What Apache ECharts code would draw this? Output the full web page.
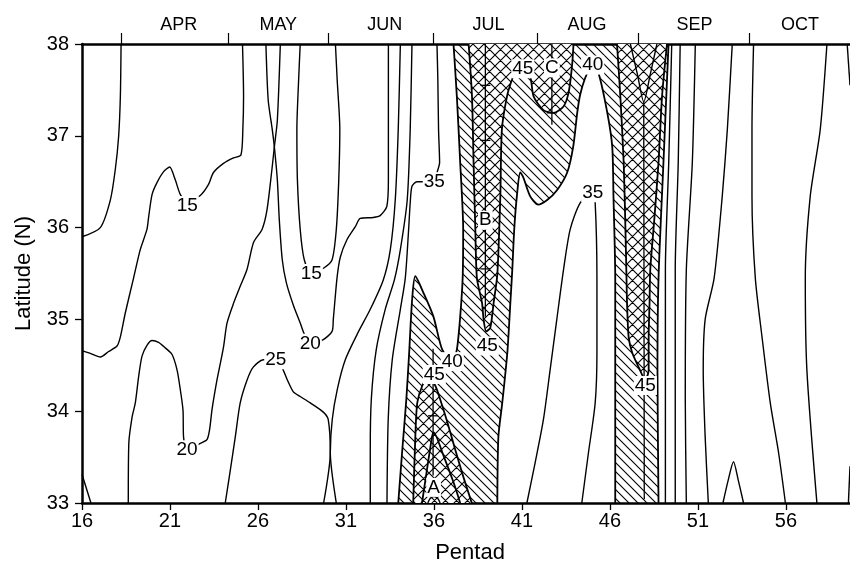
<!DOCTYPE html>
<html><head><meta charset="utf-8">
<script src="https://cdn.jsdelivr.net/npm/echarts@6/dist/echarts.min.js"></script>
<style>html,body{margin:0;padding:0;background:#fff}#c{width:850px;height:562px}</style>
</head><body><div id="c"></div>
<script>
// ---------- axis data ----------
const X_MIN = 16, X_MAX = 59.64, Y_MIN = 33, Y_MAX = 38;
const monthNames   = ['APR','MAY','JUN','JUL','AUG','SEP','OCT'];
const monthBounds  = [18.22,24.33,30.01,35.96,41.85,47.59,53.9];
const monthCenters = [21.5,27.15,33.2,39.1,44.7,50.8,56.8];

// ---------- contour lines [pentad, latitude] ----------
const c10a = [[18.22,38],[18.18,37.43],[18.08,36.99],[17.89,36.63],[17.61,36.30],[17.04,36.00],[16,35.90]];
const cCorner = [[16,33.31],[16.51,33.0]];
const c15a = [[25.12,38],[25.18,37.43],[25.14,37.07],[25.03,36.79],[24.61,36.76],[24.04,36.70],[23.47,36.60],[23.19,36.47],[22.72,36.35],[21.98,36.28],[21.59,36.36],[21.30,36.52],[20.98,36.66],[20.64,36.61],[20.26,36.49],[19.98,36.36],[19.79,36.12],[19.69,35.98],[19.31,35.76],[18.93,35.45],[18.46,35.07],[18.18,34.81],[17.99,34.71],[17.51,34.65],[17.04,34.59],[16.47,34.63],[16,34.66]];
const c20a = [[18.63,33.0],[18.66,33.65],[18.85,33.94],[19.03,34.09],[19.22,34.38],[19.41,34.60],[19.70,34.72],[19.98,34.77],[20.35,34.75],[20.73,34.69],[21.11,34.62],[21.40,34.45],[21.59,34.23],[21.74,34.01],[21.77,33.72],[21.97,33.58],[22.72,33.65],[23.10,33.69],[23.25,33.80],[23.39,34.02],[23.67,34.34],[23.86,34.52],[24.05,34.71],[24.24,34.96],[24.62,35.18],[24.99,35.36],[25.37,35.54],[25.75,35.84],[26.23,35.98],[26.51,36.19],[26.79,36.63],[26.93,36.88],[27.10,37.17],[27.27,38.0]];
const c20b = [[26.45,38],[26.58,37.39],[26.81,37.07],[26.93,36.88],[27.10,36.52],[27.21,36.09],[27.38,35.65],[27.61,35.40],[28.00,35.16],[28.40,34.96],[28.63,34.84],[28.97,34.74],[29.71,34.78],[30.21,34.87],[30.28,35.00],[30.49,35.45],[30.68,35.68],[31.06,35.87],[31.53,36.01],[31.81,36.10],[32.55,36.11],[32.94,36.13],[33.32,36.23],[33.41,36.52],[33.41,38]];
const c15b = [[28.40,38],[28.31,37.61],[28.21,37.07],[28.24,36.52],[28.40,35.98],[28.63,35.65],[29.03,35.50],[29.74,35.56],[30.21,35.65],[30.45,35.98],[30.59,36.52],[30.65,37.07],[30.50,37.61],[30.40,38]];
const c25a = [[24.14,33.0],[24.43,33.36],[24.71,33.72],[24.99,34.09],[25.38,34.34],[25.73,34.48],[26.30,34.56],[27.01,34.56],[27.38,34.47],[27.67,34.34],[28.01,34.21],[28.40,34.16],[28.97,34.09],[29.71,33.99],[29.99,33.91],[30.11,33.55],[29.73,33.0]];
const c25b = [[34.09,38],[33.97,37.07],[33.80,36.30],[33.52,35.76],[33.12,35.43],[32.38,35.11],[31.64,34.84],[30.96,34.56],[30.51,34.24],[30.22,33.91],[30.11,33.55],[30.45,33.0]];
const c30a = [[34.75,38],[34.65,37.07],[34.48,36.30],[34.09,35.76],[33.75,35.43],[33.23,35.11],[32.72,34.67],[32.44,34.13],[32.38,33.58],[32.38,33.0]];
const c35a = [[36.17,38],[36.22,37.61],[36.26,37.07],[36.32,36.71],[36.19,36.61],[36.02,36.50],[35.03,36.50],[34.75,36.45],[34.65,36.27],[34.56,35.98],[34.37,35.45],[34.09,35.11],[33.63,34.56],[33.40,33.91],[33.33,33.0]];
const c40a = [[37.11,38],[37.30,37.43],[37.49,36.71],[37.66,35.98],[37.63,35.45],[37.49,35.03],[37.30,34.67],[37.04,34.54],[36.47,34.67],[35.97,35.03],[35.40,35.29],[34.94,35.47],[34.76,35.22],[34.60,34.67],[34.43,34.13],[34.20,33.58],[33.97,33.0]];
const c40b = [[39.60,33.0],[39.66,33.72],[39.88,34.09],[40.17,34.64],[40.34,35.18],[40.45,35.54],[40.56,35.98],[40.71,36.34],[40.90,36.60],[41.07,36.55],[41.47,36.34],[41.92,36.25],[42.43,36.30],[43.00,36.41],[43.57,36.60],[43.91,36.88],[44.14,37.25],[44.31,37.45],[44.59,37.63],[44.88,37.74],[45.02,37.77],[45.34,37.69],[45.85,37.25],[46.13,36.88],[46.20,36.34],[46.30,35.45],[46.30,34.45],[46.30,33.0]];
const c40c = [[49.33,38],[49.04,36.71],[48.76,35.45],[48.70,34.45],[48.76,33.0]];
const c45bc = [[37.97,38],[38.16,37.43],[38.25,36.71],[38.35,35.98],[38.44,35.45],[38.73,35.18],[38.82,35.0],[38.97,34.87],[39.20,34.91],[39.39,35.18],[39.60,35.49],[39.77,36.34],[39.86,37.07],[40.15,37.43],[40.43,37.61],[40.73,37.75],[41.05,37.72],[41.47,37.64],[41.66,37.43],[42.22,37.28],[42.79,37.25],[43.36,37.32],[43.65,37.47],[43.84,37.75],[43.93,38]];
const c45a = [[34.82,33.0],[34.94,33.72],[35.05,34.09],[35.34,34.28],[35.68,34.37],[36.07,34.28],[36.35,34.13],[36.76,33.88],[37.21,33.58],[37.66,33.29],[38.15,33.0]];
const c45z = [[46.40,38],[46.59,37.43],[46.78,36.71],[46.88,35.98],[46.94,35.45],[46.97,35.18],[47.06,34.81],[47.26,34.64],[47.63,34.48],[48.01,34.34],[48.20,34.45],[48.20,34.81],[48.25,35.18],[48.29,35.54],[48.52,36.09],[48.76,36.71],[48.96,37.43],[49.24,38]];
const c50a = [[35.32,33.0],[35.60,33.36],[35.89,33.72],[35.98,33.77],[36.55,33.51],[37.12,33.22],[37.49,33.0]];
const c55a = [[35.65,33.0],[35.78,33.05],[36.0,33.07],[36.22,33.05],[36.35,33.0]];
const c50z = [[47.16,38],[47.56,37.67],[47.92,37.37],[48.29,37.67],[48.67,38]];
const c35b = [[41.28,33.0],[41.75,33.44],[42.22,33.91],[42.60,34.45],[42.98,35.00],[43.36,35.54],[43.74,35.98],[44.31,36.27],[45.02,36.38],[45.16,36.27],[45.26,35.45],[45.26,34.64],[45.16,34.09],[44.78,33.55],[44.40,33.0]];
const c35r = [[49.51,38],[49.34,36.71],[49.15,35.54],[49.15,34.13],[49.15,33.0]];
const c30r = [[49.99,38],[49.88,36.71],[49.71,35.54],[49.71,34.13],[49.71,33.0]];
const c25r = [[50.85,38],[50.68,36.71],[50.34,35.54],[50.28,34.13],[50.34,33.0]];
const c20r = [[52.95,38],[52.67,37.07],[52.38,36.34],[51.92,35.45],[51.41,35.0],[51.30,34.45],[51.41,33.72],[51.59,33.0]];
const c15r = [[54.16,38],[54.07,37.07],[54.07,36.34],[54.26,35.45],[54.64,34.81],[55.11,34.09],[55.58,33.55],[55.97,33.0]];
const cBump = [[52.42,33.0],[52.72,33.25],[53.02,33.45],[53.29,33.25],[53.59,33.0]];
const c10r = [[58.33,38],[57.95,37.07],[57.38,36.34],[57.10,35.45],[57.19,34.45],[57.76,33.0]];
const cEdgeTop = [[59.48,38],[59.64,37.55]];
const cEdgeBot = [[59.55,33.0],[59.64,33.4]];

// axes of maxima
const axisA = [[35.95,34.68],[35.95,33.30]];
const axisB = [[38.92,38],[38.92,35.03]];
const axisC = [[42.70,38],[42.70,37.12]];
const axisZ = [[47.92,37.37],[47.95,33.04]];
const crossPts = [[42.70,37.25],[38.92,37.55],[38.92,36.95],[38.92,35.55],[35.95,33.95]];

// contour labels
const labelPts = [[21.98,36.24],[21.97,33.58],[29.03,35.50],[28.97,34.74],[27.01,34.56],[36.02,36.50],[37.04,34.54],[36.02,34.40],[39.03,34.71],[41.05,37.73],[42.70,37.74],[45.02,37.77],[45.02,36.38],[38.92,36.08],[48.01,34.28],[35.98,33.17]];
const labelTxt = ['15','20','15','20','25','35','40','45','45','45','C','40','35','B','45','A'];

// ---------- build ----------
const FONT = '"Liberation Sans", Arial, Helvetica, sans-serif';
function pattern(size, both, bg) {
  const cv = document.createElement('canvas');
  cv.width = cv.height = size;
  const g = cv.getContext('2d');
  if (bg) { g.fillStyle = bg; g.fillRect(0, 0, size, size); }
  g.strokeStyle = '#000'; g.lineWidth = 1.1;
  g.beginPath();
  g.moveTo(-2, -2); g.lineTo(size + 2, size + 2);
  g.moveTo(-2, size - 2); g.lineTo(2, size + 2);
  g.moveTo(size - 2, -2); g.lineTo(size + 2, 2);
  if (both) {
    g.moveTo(-2, size + 2); g.lineTo(size + 2, -2);
    g.moveTo(-2, 2); g.lineTo(2, -2);
    g.moveTo(size - 2, size + 2); g.lineTo(size + 2, size - 2);
  }
  g.stroke();
  return { image: cv, repeat: 'repeat' };
}
const hatchFill = pattern(9, false, null);
const crossFill = pattern(11, true, '#fff');

function polySeries(points, fill, z) {
  return {
    type: 'custom', coordinateSystem: 'cartesian2d', clip: true, silent: true, z: z,
    data: [points[0]],
    renderItem: function (params, api) {
      return { type: 'polygon', shape: { points: points.map(p => api.coord(p)) }, style: { fill: fill, stroke: null } };
    }
  };
}
function lineSeries(data, w) {
  return { type: 'line', data: data, showSymbol: false, smooth: 0.25, silent: true, z: 3,
    lineStyle: { color: '#000', width: w || 1.4 }, clip: true, animation: false };
}

const hatchPoly = [].concat(c40c, c40b.slice().reverse(), c40a.slice().reverse());
const series = [
  polySeries(hatchPoly, hatchFill, 1),
  polySeries(c45bc, crossFill, 2),
  polySeries(c45a, crossFill, 2),
  polySeries(c45z, crossFill, 2)
];
[c10a, cCorner, c15a, c20a, c20b, c15b, c25a, c25b, c30a, c35a, c35b, c35r, c30r, c25r, c20r, c15r, cBump, c10r, cEdgeTop, cEdgeBot, c50z, c55a]
  .forEach(d => series.push(lineSeries(d, 1.4)));
[c40a, c40b, c40c, c45bc, c45a, c45z, c50a].forEach(d => series.push(lineSeries(d, 1.8)));
[axisA, axisB, axisC, axisZ].forEach(d => series.push({ type: 'line', data: d, showSymbol: false, silent: true, z: 4,
  lineStyle: { color: '#000', width: 1.3 }, animation: false }));
series.push({
  type: 'custom', coordinateSystem: 'cartesian2d', silent: true, z: 4, data: crossPts,
  renderItem: function (params, api) {
    const c = api.coord([api.value(0), api.value(1)]);
    return { type: 'line', shape: { x1: c[0] - 5, y1: c[1], x2: c[0] + 5, y2: c[1] }, style: { stroke: '#000', lineWidth: 1.3 } };
  }
});
series.push({
  type: 'custom', coordinateSystem: 'cartesian2d', silent: true, z: 6, data: labelPts,
  renderItem: function (params, api) {
    const c = api.coord([api.value(0), api.value(1)]);
    return { type: 'text', x: c[0], y: c[1], style: { text: labelTxt[params.dataIndex], fill: '#000',
      font: '19px ' + FONT, align: 'center', verticalAlign: 'middle', backgroundColor: '#fff', padding: [0, 1] } };
  }
});

function nearestMonth(v) {
  let best = 0;
  monthCenters.forEach((m, i) => { if (Math.abs(m - v) < Math.abs(monthCenters[best] - v)) best = i; });
  return monthNames[best];
}

const chart = echarts.init(document.getElementById('c'), null, { renderer: 'canvas' });
chart.setOption({
  animation: false,
  backgroundColor: '#fff',
  grid: { left: 82, right: 0, top: 44, bottom: 59, containLabel: false, outerBoundsMode: 'none' },
  xAxis: [
    { type: 'value', position: 'bottom', min: X_MIN, max: X_MAX, interval: 5,
      name: 'Pentad', nameLocation: 'middle', nameGap: 39,
      nameTextStyle: { fontFamily: FONT, fontSize: 22, color: '#000', padding: [0, 0, 0, 8] },
      axisLine: { show: true, onZero: false, lineStyle: { color: '#000', width: 2.5 } },
      axisTick: { show: true, inside: false, length: 7, lineStyle: { color: '#000', width: 1.3 } },
      axisLabel: { fontFamily: FONT, fontSize: 20, color: '#000', margin: 8, showMaxLabel: false },
      splitLine: { show: false } },
    { type: 'value', position: 'top', min: X_MIN, max: X_MAX,
      axisLine: { show: true, onZero: false, lineStyle: { color: '#000', width: 2.5 } },
      axisTick: { show: true, inside: false, length: 11, customValues: monthBounds, lineStyle: { color: '#000', width: 1.2 } },
      axisLabel: { show: true, customValues: monthCenters, formatter: nearestMonth, fontFamily: FONT, fontSize: 18, color: '#000', margin: 10 },
      splitLine: { show: false } }
  ],
  yAxis: [
    { type: 'value', min: Y_MIN, max: Y_MAX, interval: 1,
      name: 'Latitude (N)', nameLocation: 'middle', nameGap: 47,
      nameTextStyle: { fontFamily: FONT, fontSize: 22, color: '#000' },
      axisLine: { show: true, onZero: false, lineStyle: { color: '#000', width: 2.5 } },
      axisTick: { show: true, inside: false, length: 7, lineStyle: { color: '#000', width: 1.3 } },
      axisLabel: { fontFamily: FONT, fontSize: 20, color: '#000', margin: 13 },
      splitLine: { show: false } }
  ],
  series: series
});
</script>
</body></html>
